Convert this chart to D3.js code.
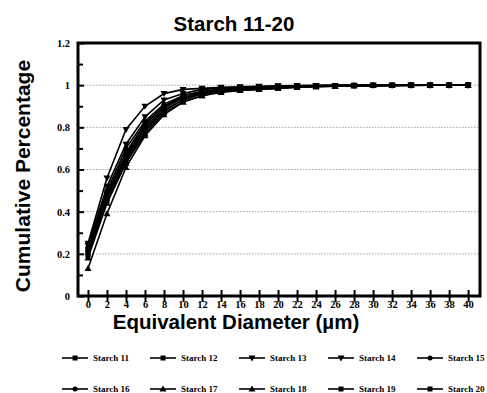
<!DOCTYPE html>
<html>
<head>
<meta charset="utf-8">
<script src="https://cdn.jsdelivr.net/npm/d3@7"></script>
<style>
  body { margin: 0; background: #fff; }
  svg { display: block; }
  .tick-lbl { font-family: "Liberation Serif", serif; font-weight: bold; font-size: 10.5px; }
  .big { font-family: "Liberation Sans", Arial, sans-serif; font-weight: bold; }
</style>
</head>
<body>
<div id="chart"></div>
<script>
// x values (equivalent diameter, µm)
var diam = d3.range(0, 41, 2);

var seriesNames = ["Starch 11", "Starch 12", "Starch 13", "Starch 14", "Starch 15",
                   "Starch 16", "Starch 17", "Starch 18", "Starch 19", "Starch 20"];

var s11 = [0.22,0.48,0.66,0.80,0.89,0.94,0.96,0.975,0.98,0.985,0.99,0.993,0.995,0.997,0.998,0.999,0.999,1,1,1,1];
var s12 = [0.20,0.45,0.64,0.78,0.88,0.93,0.96,0.97,0.98,0.985,0.99,0.992,0.995,0.997,0.998,0.999,0.999,1,1,1,1];
var s13 = [0.24,0.52,0.72,0.85,0.93,0.96,0.98,0.985,0.99,0.993,0.995,0.997,0.998,0.999,0.999,1,1,1,1,1,1];
var s14 = [0.25,0.56,0.79,0.90,0.96,0.98,0.985,0.99,0.992,0.995,0.997,0.998,0.999,0.999,1,1,1,1,1,1,1];
var s15 = [0.23,0.50,0.70,0.83,0.91,0.95,0.97,0.98,0.985,0.99,0.993,0.995,0.997,0.998,0.999,0.999,1,1,1,1,1];
var s16 = [0.21,0.47,0.67,0.81,0.90,0.94,0.965,0.975,0.98,0.985,0.99,0.993,0.995,0.997,0.998,0.999,0.999,1,1,1,1];
var s17 = [0.18,0.44,0.63,0.77,0.87,0.92,0.95,0.965,0.975,0.98,0.985,0.99,0.993,0.995,0.997,0.998,0.999,0.999,1,1,1];
var s18 = [0.13,0.39,0.61,0.76,0.86,0.92,0.95,0.97,0.975,0.98,0.985,0.99,0.993,0.995,0.997,0.998,0.999,0.999,1,1,1];
var s19 = [0.19,0.46,0.65,0.79,0.88,0.93,0.96,0.97,0.98,0.985,0.99,0.993,0.995,0.997,0.998,0.999,0.999,1,1,1,1];
var s20 = [0.22,0.49,0.68,0.82,0.90,0.95,0.97,0.98,0.985,0.99,0.993,0.995,0.997,0.998,0.999,0.999,1,1,1,1,1];

var allSeries = [s11, s12, s13, s14, s15, s16, s17, s18, s19, s20];
var markerKind = ["square","square","down","down","circle","circle","up","up","square","square"];

var yTicks = [0, 0.2, 0.4, 0.6, 0.8, 1, 1.2];

var W = 487, H = 393;
var margin = {top: 43, right: 7, bottom: 97, left: 78};
var width = W - margin.left - margin.right,
    height = H - margin.top - margin.bottom;

var svg = d3.select("#chart").append("svg")
  .attr("width", W)
  .attr("height", H);

var g = svg.append("g")
  .attr("transform", "translate(" + margin.left + "," + margin.top + ")");

// Scales
var x = d3.scaleLinear().domain([-1.05, 41.25]).range([0, width]);
var y = d3.scaleLinear().domain([0, 1.2]).range([height, 0]);

// grid lines
g.selectAll("line.grid")
  .data(yTicks.filter(function(d){ return d > 0 && d < 1.2; }))
  .enter().append("line")
  .attr("class", "grid")
  .attr("x1", 0).attr("x2", width)
  .attr("y1", function(d){ return y(d); })
  .attr("y2", function(d){ return y(d); })
  .attr("stroke", "#888")
  .attr("stroke-width", 0.8)
  .attr("stroke-dasharray", "1.5,1.5");

// frame
g.append("rect")
  .attr("x", 0).attr("y", 0)
  .attr("width", width).attr("height", height)
  .attr("fill", "none")
  .attr("stroke", "#000")
  .attr("stroke-width", 3);

// y axis ticks (major + minor), crossing the axis
var yAxis = d3.axisLeft(y).tickValues(yTicks).tickSize(6).tickFormat(function(d){ return d; });
var yg = g.append("g").call(yAxis);
yg.select(".domain").remove();
yg.selectAll(".tick line").attr("x2", 6).attr("stroke-width", 2);
yg.selectAll(".tick text").attr("class", "tick-lbl").attr("x", -8);

var yMinor = d3.axisLeft(y).tickValues(d3.range(0.1, 1.2, 0.2)).tickSize(5).tickFormat("");
var ym = g.append("g").call(yMinor);
ym.select(".domain").remove();
ym.selectAll(".tick line").attr("x2", 5).attr("stroke-width", 2);

// x axis
var xAxis = d3.axisBottom(x).tickValues(diam).tickSize(6).tickFormat(function(d){ return d; });
var xg = g.append("g").attr("transform", "translate(0," + height + ")").call(xAxis);
xg.select(".domain").remove();
xg.selectAll(".tick line").attr("y1", -6).attr("y2", 6).attr("stroke-width", 2);
xg.selectAll(".tick text").attr("class", "tick-lbl").attr("y", 5);

// markers
function drawMarker(sel, kind, cx, cy, s) {
  if (kind === "square") {
    sel.append("rect").attr("x", cx - s/2).attr("y", cy - s/2).attr("width", s).attr("height", s).attr("fill", "#000");
  } else if (kind === "circle") {
    sel.append("circle").attr("cx", cx).attr("cy", cy).attr("r", s/2).attr("fill", "#000");
  } else if (kind === "up") {
    sel.append("path").attr("d", "M" + cx + "," + (cy - s/2 - 1) + "L" + (cx + s/2 + 1) + "," + (cy + s/2) + "L" + (cx - s/2 - 1) + "," + (cy + s/2) + "Z").attr("fill", "#000");
  } else {
    sel.append("path").attr("d", "M" + cx + "," + (cy + s/2 + 1) + "L" + (cx + s/2 + 1) + "," + (cy - s/2) + "L" + (cx - s/2 - 1) + "," + (cy - s/2) + "Z").attr("fill", "#000");
  }
}

var line = d3.line()
  .x(function(d, i){ return x(diam[i]); })
  .y(function(d){ return y(d); });

allSeries.forEach(function(s, k) {
  g.append("path")
    .datum(s)
    .attr("d", line)
    .attr("fill", "none")
    .attr("stroke", "#000")
    .attr("stroke-width", 1.6);
  var mg = g.append("g");
  s.forEach(function(v, i) {
    drawMarker(mg, markerKind[k], x(diam[i]), y(v), 5);
  });
});

// title + axis labels
svg.append("text").attr("class", "big")
  .attr("x", 234).attr("y", 31)
  .attr("text-anchor", "middle")
  .style("font-size", "20.5px")
  .text("Starch 11-20");

svg.append("text").attr("class", "big")
  .attr("text-anchor", "middle")
  .attr("transform", "translate(30,176)rotate(-90)")
  .style("font-size", "21px")
  .text("Cumulative Percentage");

svg.append("text").attr("class", "big")
  .attr("x", 236).attr("y", 329)
  .attr("text-anchor", "middle")
  .style("font-size", "20.5px")
  .text("Equivalent Diameter (µm)");

// legend
var legX = [62, 150, 239, 328, 417];
var legY = [358, 389];
seriesNames.forEach(function(name, k) {
  var lx = legX[k % 5], ly = legY[Math.floor(k / 5)];
  var lg = svg.append("g");
  lg.append("line")
    .attr("x1", lx).attr("x2", lx + 26)
    .attr("y1", ly).attr("y2", ly)
    .attr("stroke", "#000").attr("stroke-width", 1.6);
  drawMarker(lg, markerKind[k], lx + 13, ly, 5);
  lg.append("text")
    .attr("class", "tick-lbl")
    .attr("x", lx + 31).attr("y", ly + 3)
    .style("font-size", "9px")
    .text(name);
});
</script>
</body>
</html>
